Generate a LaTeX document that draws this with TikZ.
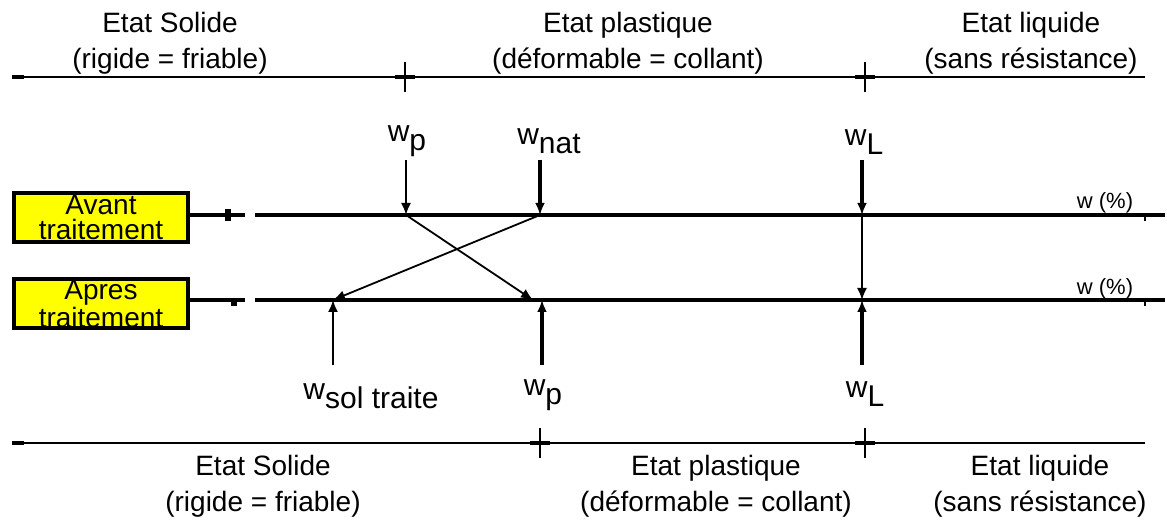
\documentclass[tikz,border=0pt]{standalone}
\usepackage{fontspec}
\setmainfont{Liberation Sans}
\usetikzlibrary{positioning,arrows.meta}
\definecolor{boxyellow}{HTML}{FFFF00}
\newcommand{\wsub}[1]{w\raisebox{-0.55ex}{#1}}

\begin{document}
\begin{tikzpicture}[x=0.5pt,y=-0.5pt,
    etat/.style={align=center, inner sep=0pt, font=\fontsize{14}{18}\selectfont},
    wlabel/.style={inner sep=0pt, font=\fontsize{15}{18}\selectfont},
    pctlabel/.style={inner sep=0pt, font=\fontsize{11}{12}\selectfont},
    traitbox/.style={draw, fill=boxyellow, line width=2pt, align=center,
      minimum width=87pt, minimum height=24.5pt, inner sep=0pt,
      font=\fontsize{14}{12.5}\selectfont},
    axe/.style={line width=0.9pt},
    wline/.style={line width=2.2pt},
    fleche/.style={-{Latex[length=6pt,width=5pt]}, line width=0.9pt},
    grossefleche/.style={-{Latex[length=6pt,width=5pt]}, line width=2pt}]
  \useasboundingbox (0,0) rectangle (1167,522);

  % axes des etats
  \coordinate (hautG) at (12,77);
  \coordinate (hautD) at (1145,77);
  \coordinate (basG) at (12,443);
  \coordinate (basD) at (1145,443);
  \draw[axe] (hautG) -- (hautD);
  \draw[axe] (basG) -- (basD);
  \draw[line width=2pt] (hautG) -- ++(12,0);
  \draw[line width=2pt] (basG) -- ++(12,0);
  \foreach \x/\y in {405/77,865/77,540/443,865/443}{
    \draw[axe] (\x,\y-15) -- (\x,\y+15);
    \draw[line width=2pt] (\x-10,\y) -- (\x+10,\y);
  }

  \node[etat] (solH) at (170,43) {Etat Solide\\(rigide = friable)};
  \node[etat] (plaH) at (628,43) {Etat plastique\\(déformable = collant)};
  \node[etat] (liqH) at (1031,43) {Etat liquide\\(sans résistance)};
  \node[etat] (solB) at (263,486) {Etat Solide\\(rigide = friable)};
  \node[etat] (plaB) at (716,486) {Etat plastique\\(déformable = collant)};
  \node[etat] (liqB) at (1040,486) {Etat liquide\\(sans résistance)};

  % avant / apres traitement
  \node[traitbox] (avant) at (101,218) {Avant\\traitement};
  \node[traitbox] (apres) at (101,304) {Apres\\traitement};

  \coordinate (av0) at (255,215);
  \coordinate (avEnd) at (1165,215);
  \coordinate (ap0) at (255,300);
  \coordinate (apEnd) at (1165,300);
  \draw[wline] (avant.east |- av0) -- (245,215);
  \draw[wline] (av0) -- (avEnd);
  \draw[wline] (apres.east |- ap0) -- (245,300);
  \draw[wline] (ap0) -- (apEnd);
  \draw[line width=3pt] (228,209) -- (228,221);
  \draw[line width=3pt] (234,300) -- (234,306);
  \draw[axe] (1145,215) -- (1145,221);
  \draw[axe] (1145,300) -- (1145,306);
  \node[pctlabel] (pct1) at (1105,203) {w (\%)};
  \node[pctlabel] (pct2) at (1105,289) {w (\%)};

  \coordinate (avP) at (406,215);
  \coordinate (avN) at (540,215);
  \coordinate (avL) at (862,215);
  \coordinate (apS) at (333,300);
  \coordinate (apP) at (533,300);
  \coordinate (apWp) at (542,300);
  \coordinate (apL) at (862,300);

  % limites avant traitement
  \node[wlabel] (wp1) at (407,141) {\wsub{p}};
  \node[wlabel] (wnat) at (549,141) {\wsub{nat}};
  \node[wlabel] (wl1) at (864,142) {\wsub{L}};
  \draw[fleche] (avP) ++(0,-55) -- (avP);
  \draw[grossefleche] (avN) ++(0,-55) -- (avN);
  \draw[grossefleche] (avL) ++(0,-55) -- (avL);

  \draw[fleche] (avP) -- (apP);
  \draw[fleche] (avN) -- (apS);
  \draw[fleche] (avL) -- (apL);

  % limites apres traitement
  \node[wlabel] (wsol) at (371,396) {\wsub{sol traite}};
  \node[wlabel] (wp2) at (543,395) {\wsub{p}};
  \node[wlabel] (wl2) at (865,394) {\wsub{L}};
  \draw[fleche] (apS) ++(0,65) -- (apS);
  \draw[grossefleche] (apWp) ++(0,65) -- (apWp);
  \draw[grossefleche] (apL) ++(0,65) -- (apL);
\end{tikzpicture}
\end{document}
